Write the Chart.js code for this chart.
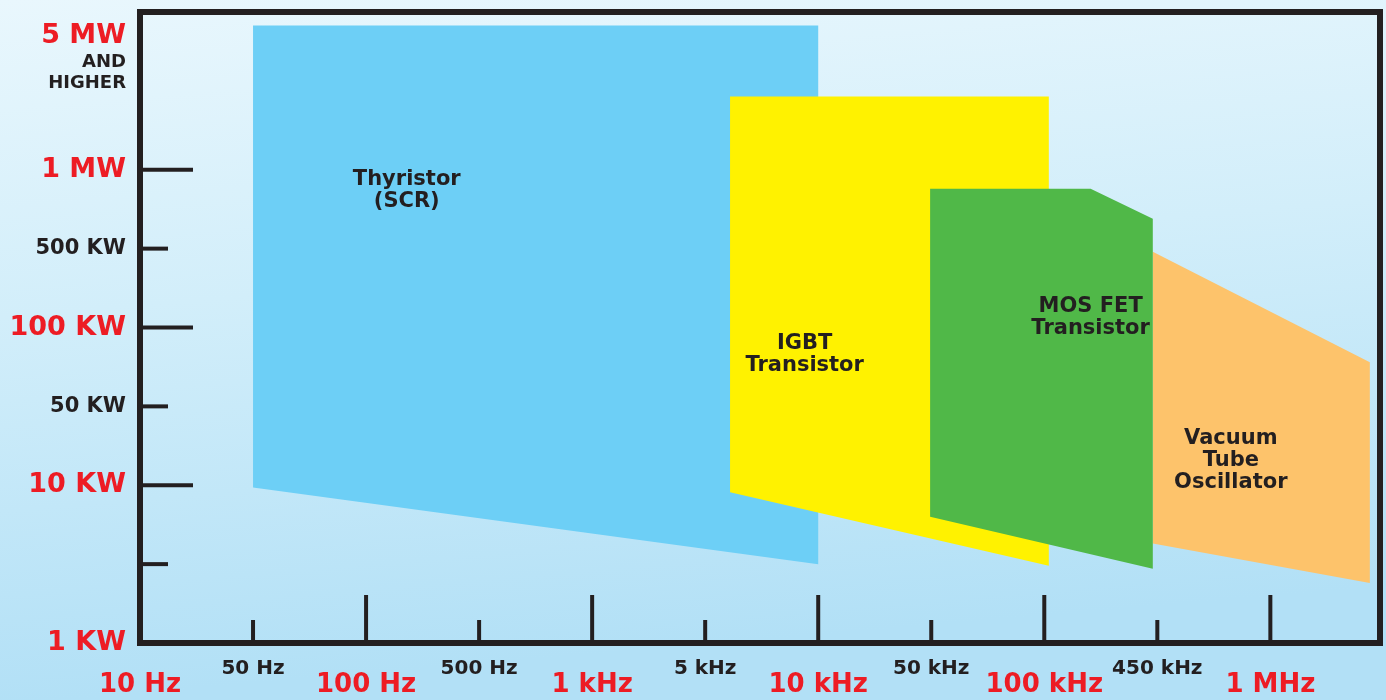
<!DOCTYPE html>
<html>
<head>
<meta charset="utf-8">
<script src="https://cdn.jsdelivr.net/npm/chart.js@4.4.1/dist/chart.umd.min.js"></script>
<style>
  html, body { margin: 0; padding: 0; background: #d4eefa; }
  canvas { display: block; }
</style>
</head>
<body>
<canvas id="chart" width="1386" height="700"></canvas>
<script>
// axis steps: the original axes are evenly spaced per labelled tick, not true log
const xTickPos = [0, 1, 2, 3, 4, 5, 6, 7, 8, 9, 10];
const xTickLabels = ['10 Hz', '50 Hz', '100 Hz', '500 Hz', '1 kHz', '5 kHz', '10 kHz', '50 kHz', '100 kHz', '450 kHz', '1 MHz'];
const xTickMajor = [true, false, true, false, true, false, true, false, true, false, true];

const yTickPos = [0, 1, 2, 3, 4, 5, 6, 7.7];
const yTickLabels = ['1 KW', '', '10 KW', '50 KW', '100 KW', '500 KW', '1 MW', '5 MW'];
const yTickMajor = [true, false, true, false, true, false, true, true];
const yTickMark = [false, true, true, true, true, true, true, false];
const yTopNote = ['AND', 'HIGHER'];

const xMax = 10.97;
const yMax = 8;

// device ranges (x = frequency step, y = power step), outline points in order
const thyristorX = [1, 6, 6, 1];
const thyristorY = [7.83, 7.83, 1.0, 1.97];
const igbtX = [5.22, 8.04, 8.04, 5.22];
const igbtY = [6.93, 6.93, 0.98, 1.91];
const mosfetX = [6.99, 8.41, 8.96, 8.96, 6.99];
const mosfetY = [5.76, 5.76, 5.38, 0.94, 1.60];
const tubeX = [8.96, 10.88, 10.88, 8.96];
const tubeY = [4.96, 3.56, 0.76, 1.26];

const regionLines = [['Thyristor', '(SCR)'], ['IGBT', 'Transistor'], ['MOS FET', 'Transistor'], ['Vacuum', 'Tube', 'Oscillator']];
const regionColors = ['#6dcff6', '#fff200', '#50b848', '#fdc36b'];
// where each name sits, in axis steps
const labelAtX = [2.36, 5.88, 8.41, 9.65];
const labelAtY = [5.74, 3.66, 4.12, 2.31];

const INK = '#231f20';
const RED = '#ed1c24';
const FONT = "'DejaVu Sans', sans-serif";

function toPoints(xs, ys) {
  return xs.map((v, i) => ({ x: v, y: ys[i] }));
}

function shape(label, xs, ys, color, order) {
  return {
    label,
    data: toPoints(xs, ys),
    showLine: true,
    fill: 'shape',
    backgroundColor: color,
    borderColor: color,
    borderWidth: 0,
    pointRadius: 0,
    tension: 0,
    order
  };
}

const bgPlugin = {
  id: 'bg',
  beforeDraw(chart) {
    const { ctx, width, height } = chart;
    const g = ctx.createLinearGradient(0, 0, 60, height);
    g.addColorStop(0, '#e9f7fd');
    g.addColorStop(0.45, '#d2eefa');
    g.addColorStop(1, '#b2e0f6');
    ctx.save();
    ctx.fillStyle = g;
    ctx.fillRect(0, 0, width, height);
    ctx.restore();
  }
};

const framePlugin = {
  id: 'frame',
  afterDatasetsDraw(chart) {
    const { ctx, chartArea: a, scales: { x, y } } = chart;
    ctx.save();

    // names inside the coloured areas
    ctx.fillStyle = INK;
    ctx.textAlign = 'center';
    ctx.textBaseline = 'middle';
    ctx.font = 'bold 21px ' + FONT;
    regionLines.forEach((lines, i) => {
      const cx = x.getPixelForValue(labelAtX[i]);
      const cy = y.getPixelForValue(labelAtY[i]);
      const lh = 22;
      lines.forEach((t, j) => {
        ctx.fillText(t, cx, cy + (j - (lines.length - 1) / 2) * lh);
      });
    });

    // tick marks, pointing inward
    ctx.strokeStyle = INK;
    ctx.lineWidth = 4;
    xTickPos.forEach((v, i) => {
      if (i === 0) return;
      const px = x.getPixelForValue(v);
      ctx.beginPath();
      ctx.moveTo(px, a.bottom);
      ctx.lineTo(px, a.bottom - (xTickMajor[i] ? 48 : 23));
      ctx.stroke();
    });
    yTickPos.forEach((v, i) => {
      if (!yTickMark[i]) return;
      const py = y.getPixelForValue(v);
      ctx.beginPath();
      ctx.moveTo(a.left, py);
      ctx.lineTo(a.left + (yTickMajor[i] ? 53 : 28), py);
      ctx.stroke();
    });

    // frame
    ctx.lineWidth = 6;
    ctx.strokeRect(a.left, a.top, a.right - a.left, a.bottom - a.top);

    // x labels: minor row above, major row below
    ctx.textAlign = 'center';
    xTickPos.forEach((v, i) => {
      const px = x.getPixelForValue(v);
      if (xTickMajor[i]) {
        ctx.fillStyle = RED;
        ctx.font = 'bold 26px ' + FONT;
        ctx.fillText(xTickLabels[i], px, a.bottom + 42);
      } else {
        ctx.fillStyle = INK;
        ctx.font = 'bold 20px ' + FONT;
        ctx.fillText(xTickLabels[i], px, a.bottom + 26);
      }
    });

    // y labels
    ctx.textAlign = 'right';
    const lx = a.left - 14;
    yTickPos.forEach((v, i) => {
      if (!yTickLabels[i]) return;
      const py = y.getPixelForValue(v);
      if (yTickMajor[i]) {
        ctx.fillStyle = RED;
        ctx.font = 'bold 27px ' + FONT;
      } else {
        ctx.fillStyle = INK;
        ctx.font = 'bold 21px ' + FONT;
      }
      ctx.fillText(yTickLabels[i], lx, py);
    });
    const topY = y.getPixelForValue(yTickPos[yTickPos.length - 1]);
    ctx.fillStyle = INK;
    ctx.font = 'bold 18px ' + FONT;
    yTopNote.forEach((t, j) => {
      ctx.fillText(t, lx, topY + 27 + j * 21);
    });

    ctx.restore();
  }
};

new Chart(document.getElementById('chart'), {
  type: 'scatter',
  data: {
    datasets: [
      shape('Thyristor (SCR)', thyristorX, thyristorY, regionColors[0], 4),
      shape('IGBT Transistor', igbtX, igbtY, regionColors[1], 3),
      shape('Vacuum Tube Oscillator', tubeX, tubeY, regionColors[3], 2),
      shape('MOS FET Transistor', mosfetX, mosfetY, regionColors[2], 1)
    ]
  },
  options: {
    responsive: false,
    animation: false,
    devicePixelRatio: 1,
    layout: { padding: { left: 140, right: 6, top: 12, bottom: 57 } },
    scales: {
      x: { type: 'linear', min: 0, max: xMax, display: false },
      y: { type: 'linear', min: 0, max: yMax, display: false }
    },
    plugins: {
      legend: { display: false },
      tooltip: { enabled: false }
    }
  },
  plugins: [bgPlugin, framePlugin]
});
</script>
</body>
</html>
